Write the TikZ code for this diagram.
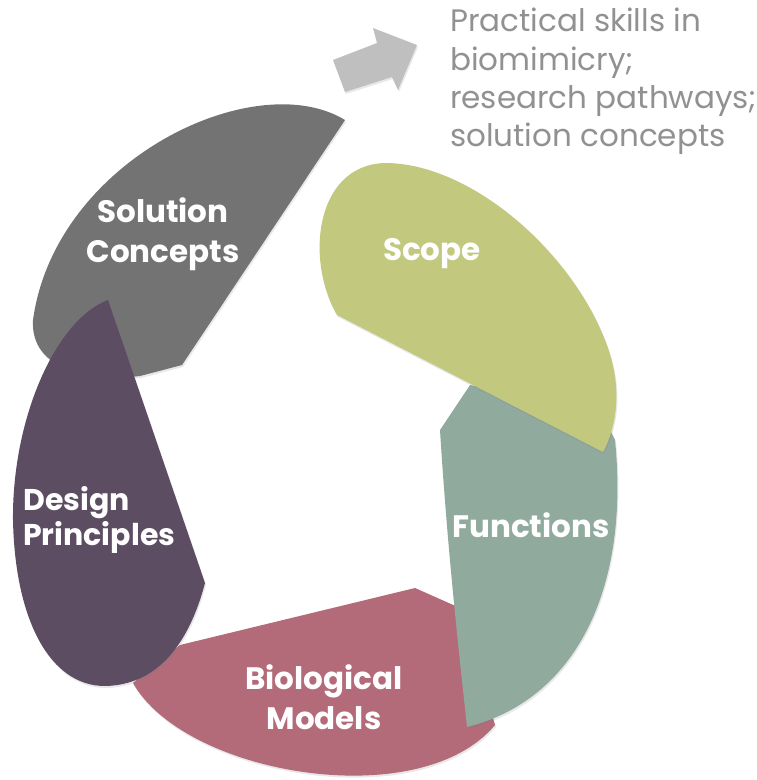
\documentclass[tikz,border=0pt]{standalone}
\usepackage{fontspec}
\setmainfont{Poppins}
\usetikzlibrary{shadows}
\definecolor{myolive}{RGB}{194, 201, 126}
\definecolor{myteal}{RGB}{145, 170, 158}
\definecolor{myrose}{RGB}{179, 106, 121}
\definecolor{myplum}{RGB}{92, 77, 99}
\definecolor{mygray}{RGB}{115, 115, 115}
\definecolor{myarrow}{RGB}{191, 191, 191}
\definecolor{mytext}{RGB}{145, 145, 145}
\tikzset{blade/.style = {drop shadow = {shadow xshift = 1pt, shadow yshift = -2pt, opacity = 0.18}},
  bladetext/.style = {text = white, font = \bfseries\fontsize{31}{40}\selectfont, align = center, inner sep = 0}}

\begin{document}
\begin{tikzpicture}[x = 1pt, y = -1pt]
\useasboundingbox (0,0) rectangle (756,780);
% blades, back to front
\fill[mygray, blade] (345,120) .. controls (255,65) and (55,160) .. (33,320) .. controls (30,370) and (90,382) .. (140,376) -- (182,365) -- cycle;
\fill[myrose, blade] (180,645) -- (415,588) -- (460,608) -- (495,725) .. controls (420,815) and (185,775) .. (133,683) -- cycle;
\fill[myplum, blade] (108,300) -- (205,583) .. controls (190,640) and (160,685) .. (105,686) .. controls (50,686) and (15,620) .. (13,520) .. controls (12,420) and (55,320) .. (108,300);
\fill[myteal, blade] (470,385) -- (440,430) .. controls (448,560) and (462,680) .. (467,727) .. controls (575,700) and (630,590) .. (615,440) -- (600,410) -- cycle;
\fill[myolive, blade] (337,315) .. controls (305,260) and (315,165) .. (385,163) .. controls (470,163) and (570,250) .. (605,340) .. controls (625,390) and (615,430) .. (603,452) -- cycle;
% arrow out
\fill[myarrow, blade] (333,60) -- (377,43) -- (373,28) -- (417,45) -- (398,90) -- (392,77) -- (345,92) -- cycle;
% labels
\node[bladetext] (solution) at (163,234) {Solution\\Concepts};
\node[bladetext] (scope) at (432,254) {Scope};
\node[bladetext] (functions) at (531,525) {Functions};
\node[bladetext] (models) at (324,697) {Biological\\Models};
\node[bladetext, align = left, anchor = west, font = \bfseries\fontsize{30}{35}\selectfont] (design) at (23,520) {Design\\Principles};
\node[anchor = north west, inner sep = 0, align = left, text = mytext, font = \fontsize{31}{38.3}\selectfont] (outcome) at (450,8) {Practical skills in\\biomimicry;\\research pathways;\\solution concepts};
\end{tikzpicture}
\end{document}
